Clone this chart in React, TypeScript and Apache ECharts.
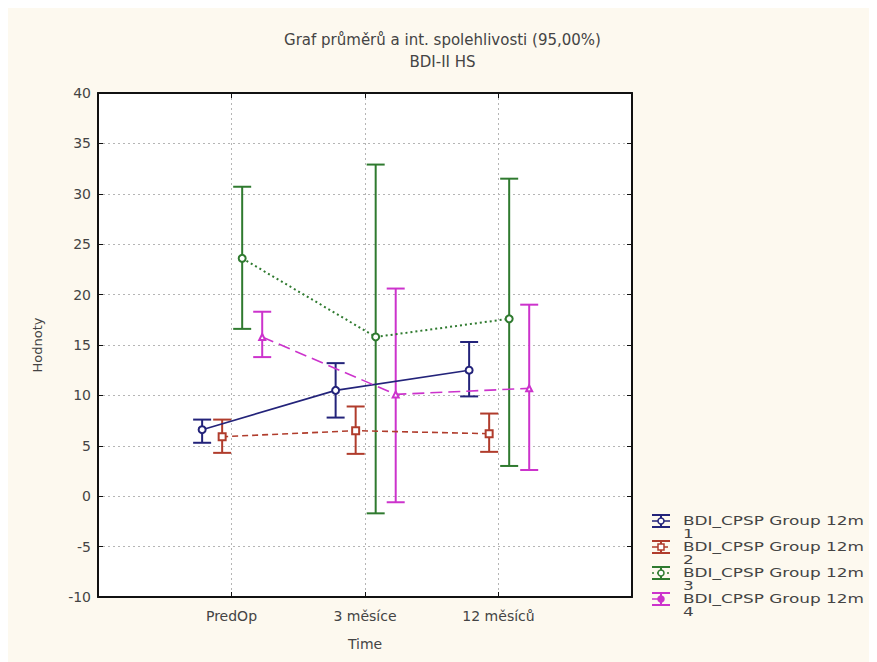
import React, { useEffect, useRef } from "react";
import * as echarts from "echarts";

const categories = ["PredOp", "3 měsíce", "12 měsíců"];
const seriesNames = [
  "BDI_CPSP Group 12m\n1",
  "BDI_CPSP Group 12m\n2",
  "BDI_CPSP Group 12m\n3",
  "BDI_CPSP Group 12m\n4",
];
const means = [
  [6.6, 10.5, 12.5],
  [5.9, 6.5, 6.2],
  [23.6, 15.8, 17.6],
  [15.8, 10.1, 10.7],
];
const lowers = [
  [5.3, 7.8, 9.9],
  [4.3, 4.2, 4.4],
  [16.6, -1.7, 3.0],
  [13.8, -0.6, 2.6],
];
const uppers = [
  [7.6, 13.2, 15.3],
  [7.6, 8.9, 8.2],
  [30.7, 32.9, 31.5],
  [18.3, 20.6, 19.0],
];
const yTicks = [-10, -5, 0, 5, 10, 15, 20, 25, 30, 35, 40];

const colors = ["#23237a", "#b03c2c", "#2f7a2f", "#cc33cc"];
const offsets = [-0.22, -0.07, 0.08, 0.23];
const lineTypes: any[] = ["solid", [6, 4], [2, 3], [12, 6]];
const symbols = ["emptyCircle", "emptyRect", "emptyCircle", "emptyTriangle"];

export default function App() {
  const ref = useRef<HTMLDivElement>(null);
  useEffect(() => {
    if (!ref.current) return;
    const chart = echarts.init(ref.current, null, { renderer: "svg" });
    const font = "DejaVu Sans, Liberation Sans, sans-serif";
    const txt = "#444";

    const series: any[] = [];
    seriesNames.forEach((name, s) => {
      series.push({
        type: "custom",
        name: name + "_err",
        xAxisIndex: 0,
        yAxisIndex: 0,
        data: categories.map((_, i) => [i + 1 + offsets[s], lowers[s][i], uppers[s][i]]),
        renderItem: (params: any, api: any) => {
          const x = api.value(0);
          const lo = api.coord([x, api.value(1)]);
          const hi = api.coord([x, api.value(2)]);
          const w = 9;
          const st = { stroke: colors[s], lineWidth: 2 };
          return {
            type: "group",
            children: [
              { type: "line", shape: { x1: lo[0], y1: lo[1], x2: hi[0], y2: hi[1] }, style: st },
              { type: "line", shape: { x1: lo[0] - w, y1: lo[1], x2: lo[0] + w, y2: lo[1] }, style: st },
              { type: "line", shape: { x1: hi[0] - w, y1: hi[1], x2: hi[0] + w, y2: hi[1] }, style: st },
            ],
          };
        },
        z: 2,
      });
      series.push({
        type: "line",
        name,
        xAxisIndex: 0,
        yAxisIndex: 0,
        data: categories.map((_, i) => [i + 1 + offsets[s], means[s][i]]),
        symbol: symbols[s],
        symbolSize: s === 3 ? 6 : 7,
        showSymbol: true,
        lineStyle: { color: colors[s], width: s === 2 ? 2 : 1.6, type: lineTypes[s] },
        itemStyle: { color: colors[s], borderColor: colors[s], borderWidth: 1.5 },
        z: 3,
      });
    });

    const legendGraphics: any[] = [];
    seriesNames.forEach((name, s) => {
      const cy = 513 + s * 26;
      const cx = 653;
      const st = { stroke: colors[s], lineWidth: 2 };
      legendGraphics.push({
        type: "group",
        children: [
          { type: "line", shape: { x1: cx - 9, y1: cy - 6, x2: cx + 9, y2: cy - 6 }, style: st },
          { type: "line", shape: { x1: cx - 9, y1: cy + 6, x2: cx + 9, y2: cy + 6 }, style: st },
          { type: "line", shape: { x1: cx, y1: cy - 6, x2: cx, y2: cy + 6 }, style: st },
          {
            type: "line",
            shape: { x1: cx - 9, y1: cy, x2: cx + 9, y2: cy },
            style: { stroke: colors[s], lineWidth: 1.5, lineDash: s === 0 ? null : lineTypes[s] },
          },
          s === 1
            ? { type: "rect", shape: { x: cx - 3, y: cy - 3, width: 6, height: 6 }, style: { fill: "#fff", stroke: colors[s], lineWidth: 1.5 } }
            : { type: "circle", shape: { cx, cy, r: 3 }, style: { fill: s === 3 ? colors[s] : "#fff", stroke: colors[s], lineWidth: 1.5 } },
          {
            type: "text",
            x: 675,
            y: cy - 7,
            scaleX: 1.3,
            style: { text: name, fill: txt, font: "13px " + font, lineHeight: 12.8 },
          },
        ],
      });
    });

    const gridLine = { show: true, lineStyle: { color: "#b5b5b5", type: [2, 3] as any, width: 1 } };
    const frame = { show: true, onZero: false, lineStyle: { color: "#111", width: 2 } };
    const tick = { show: true, inside: true, length: 5, lineStyle: { color: "#111" } };

    chart.setOption({
      animation: false,
      backgroundColor: "#fdf9ef",
      textStyle: { fontFamily: font },
      title: [
        { text: "Graf průměrů a int. spolehlivosti (95,00%)", left: "center", top: 19, textStyle: { fontSize: 15, fontWeight: "normal", color: txt, fontFamily: font } },
        { text: "BDI-II HS", left: "center", top: 41, textStyle: { fontSize: 15, fontWeight: "normal", color: txt, fontFamily: font } },
      ],
      grid: { left: 90, top: 85, right: 245, bottom: 65, show: true, backgroundColor: "#ffffff", borderWidth: 0 },
      xAxis: [
        {
          type: "value",
          min: 0,
          max: 4,
          interval: 1,
          position: "bottom",
          name: "Time",
          nameLocation: "middle",
          nameGap: 40,
          nameTextStyle: { color: txt, fontSize: 14 },
          axisLine: frame,
          axisTick: tick,
          axisLabel: {
            color: txt,
            fontSize: 14,
            margin: 12,
            formatter: (v: number) => (v >= 1 && v <= 3 ? categories[v - 1] : ""),
          },
          splitLine: gridLine,
        },
        {
          type: "value",
          min: 0,
          max: 4,
          interval: 1,
          position: "top",
          axisLine: frame,
          axisTick: tick,
          axisLabel: { show: false },
          splitLine: { show: false },
        },
      ],
      yAxis: [
        {
          type: "value",
          min: -10,
          max: 40,
          interval: 5,
          position: "left",
          name: "Hodnoty",
          nameLocation: "middle",
          nameGap: 54,
          nameRotate: 90,
          nameTextStyle: { color: txt, fontSize: 13 },
          axisLine: frame,
          axisTick: tick,
          axisLabel: { color: txt, fontSize: 14, margin: 7, formatter: (v: number) => (yTicks.includes(v) ? String(v) : "") },
          splitLine: gridLine,
        },
        {
          type: "value",
          min: -10,
          max: 40,
          interval: 5,
          position: "right",
          axisLine: frame,
          axisTick: tick,
          axisLabel: { show: false },
          splitLine: { show: false },
        },
      ],
      series,
      graphic: legendGraphics,
    });
    return () => chart.dispose();
  }, []);
  return <div ref={ref} style={{ width: 869, height: 654 }} />;
}
